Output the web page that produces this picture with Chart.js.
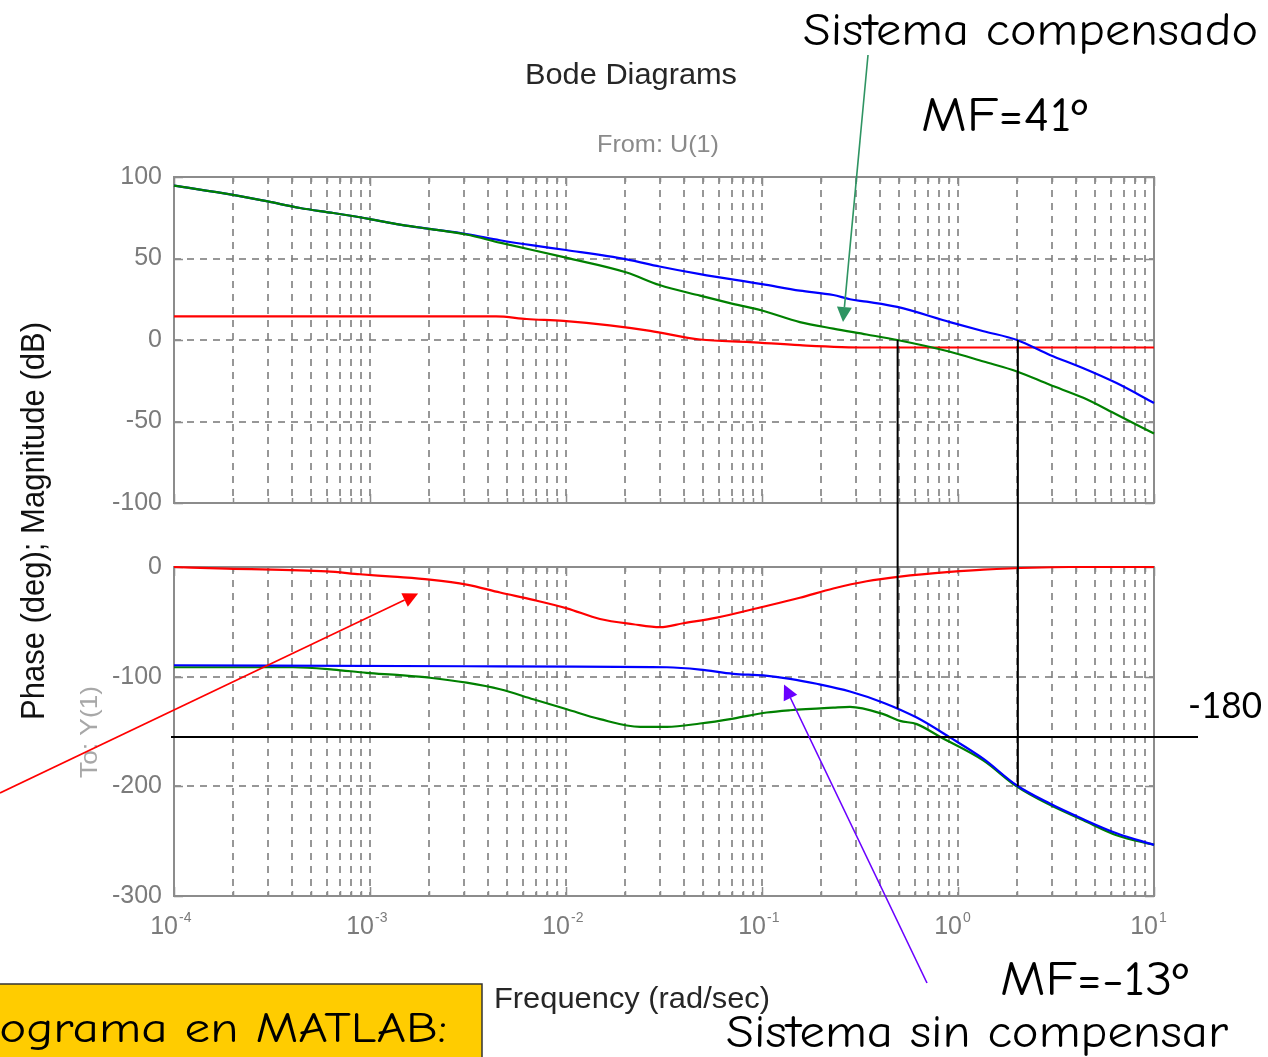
<!DOCTYPE html>
<html>
<head>
<meta charset="utf-8">
<title>Bode Diagrams</title>
<script src="https://cdn.jsdelivr.net/npm/chart.js@4.4.0/dist/chart.umd.min.js"></script>
<style>
  html, body { margin: 0; padding: 0; background: #ffffff; }
  #page { position: relative; width: 1268px; height: 1057px; overflow: hidden; background: #ffffff; }
  #page canvas { position: absolute; left: 0; }
  #mag { top: 150px; }
  #phase { top: 540px; }
  #notes { top: 0; pointer-events: none; }
</style>
</head>
<body>
<div id="page">
  <canvas id="mag" width="1268" height="380"></canvas>
  <canvas id="phase" width="1268" height="420"></canvas>
  <canvas id="notes" width="1268" height="1057"></canvas>
</div>
<script>
// ---- axis ticks -------------------------------------------------------------
const decadeExponents = ['-4', '-3', '-2', '-1', '0', '1'];
const magTickValues = [100, 50, 0, -50, -100];
const phaseTickValues = [0, -100, -200, -300];

// ---- magnitude (dB) ---------------------------------------------------------
// compensated system (green)
const compMagFreq = [1e-4, 2.0e-4, 3.0e-4, 4.4e-4, 6.5e-4, 1e-3, 1.42e-3, 2.0e-3, 3.1e-3, 4.6e-3, 1.0e-2, 2.04e-2, 3.0e-2, 4.83e-2, 7.1e-2, 0.10, 0.156, 0.231, 0.342, 0.49, 0.91, 1.35, 2.0, 2.94, 4.36, 6.44, 10];
const compMag     = [94.7, 89, 85, 81, 77.9, 74.2, 70.8, 68.2, 64.7, 59.7, 50.5, 41.4, 33.7, 27.2, 22.2, 18.1, 11, 7, 3.4, 0, -7.2, -13.2, -19.3, -27.5, -35.5, -45.7, -57.4];
// uncompensated system (blue)
const plantMagFreq = [1e-4, 2.0e-4, 3.0e-4, 4.4e-4, 6.5e-4, 1e-3, 1.42e-3, 2.0e-3, 3.1e-3, 4.6e-3, 6.8e-3, 1.0e-2, 2.04e-2, 3.0e-2, 4.83e-2, 0.10, 0.156, 0.231, 0.281, 0.342, 0.49, 0.91, 1.35, 2.0, 2.94, 4.36, 6.44, 10];
const plantMag     = [94.7, 89, 85, 81, 77.9, 74.2, 70.8, 68.2, 65, 61.2, 58, 55.2, 49.5, 45.1, 40.4, 34.3, 30.3, 27.6, 25, 23.5, 20.3, 11, 5.4, 0, -9.2, -17.3, -26.4, -38.6];
// compensator (red)
const compensatorMagFreq = [1e-4, 4.4e-3, 6.3e-3, 9.7e-3, 1.67e-2, 2.69e-2, 4.83e-2, 8.7e-2, 0.156, 0.342, 10];
const compensatorMag     = [14.5, 14.5, 12.9, 11.7, 9, 5.6, 0.3, -1.3, -3.2, -4.6, -4.6];

// ---- phase (deg) ------------------------------------------------------------
const compPhaseFreq = [1e-4, 4.05e-4, 6.5e-4, 9.6e-4, 1.42e-3, 2.02e-3, 3.11e-3, 4.61e-3, 6.81e-3, 1.01e-2, 1.49e-2, 2.39e-2, 3.27e-2, 4.83e-2, 7.14e-2, 0.1057, 0.139, 0.231, 0.281, 0.416, 0.506, 0.616, 0.809, 1.35, 1.99, 2.94, 4.36, 6.44, 10];
const compPhase     = [-91.4, -91.4, -93.5, -96.5, -98.6, -101, -105.5, -111.5, -120.6, -129.7, -138.7, -145.7, -145.7, -142.7, -138.2, -132.7, -130.6, -128.2, -127.5, -134.2, -140.3, -143.3, -154.8, -176.5, -200, -216.9, -231, -244.6, -253.4];
const plantPhaseFreq = [1e-4, 3.11e-3, 3.27e-2, 4.83e-2, 7.14e-2, 0.1016, 0.139, 0.190, 0.281, 0.416, 0.616, 0.910, 1.35, 1.99, 2.94, 4.36, 6.44, 10];
const plantPhase     = [-89.6, -90.5, -91.4, -93.5, -97.4, -98.9, -102, -106.5, -113.5, -123.7, -137.3, -155.4, -175, -199, -215.7, -230, -242.8, -253.4];
const compensatorPhaseFreq = [1e-4, 1.86e-4, 6.0e-4, 8.9e-4, 1.31e-3, 2.02e-3, 3.11e-3, 4.61e-3, 6.81e-3, 1.01e-2, 1.49e-2, 2.2e-2, 3.02e-2, 3.97e-2, 5.88e-2, 0.1016, 0.156, 0.231, 0.342, 0.506, 0.91, 1.35, 3.72, 10];
const compensatorPhase     = [0, -1.5, -4, -6.6, -8.8, -11.5, -16, -23.3, -30, -37.7, -47.4, -52.2, -54.9, -51.3, -46.2, -36.2, -28, -19.6, -13, -8.8, -4.5, -2.4, 0, 0];

// ---- annotation anchors -----------------------------------------------------
const crossoverFreq = [0.492, 2.02];      // 0 dB crossings: compensated, uncompensated
const crossoverPhase = [-129, -200];      // where the drop lines stop on the phase plot
const markerPhase = -155;                 // horizontal marker line, annotated "-180"
const compArrowTarget = { freq: 0.259, mag: 11 };
const compensatorArrowTarget = { freq: 1.76e-3, phase: -24.2 };
const plantArrowTarget = { freq: 0.1295, phase: -107.1 };

// ---- drawing ----------------------------------------------------------------
const MATLAB_FONT = "'Liberation Sans', Arial, Helvetica, sans-serif";
const HAND_FONT = "'Comic Sans MS', 'Comic Neue', 'Noto Sans', sans-serif";
const GRID = 'rgba(125,125,125,0.8)';
const FRAME = '#8c8c8c';

const gridFreqs = [];
decadeExponents.forEach((e, i) => {
  const base = Math.pow(10, Number(e));
  const top = i === decadeExponents.length - 1 ? 1 : 9;
  for (let m = 1; m <= top; m++) gridFreqs.push(m * base);
});

const pts = (f, v) => f.map((x, i) => ({ x, y: v[i] }));

function series(freq, vals, color) {
  return {
    data: pts(freq, vals),
    borderColor: color,
    borderWidth: 2.2,
    pointRadius: 0,
    fill: false,
    clip: 3,
    cubicInterpolationMode: 'monotone'
  };
}

// frame around the plot area with inward tick marks, as MATLAB draws it
const framePlugin = {
  id: 'frame',
  beforeDatasetsDraw(chart) {
    const { ctx, chartArea: a, scales } = chart;
    ctx.save();
    ctx.strokeStyle = FRAME;
    ctx.lineWidth = 1.5;
    scales.x.ticks.forEach(t => {
      const x = Math.round(scales.x.getPixelForValue(t.value)) + 0.5;
      const len = Math.abs(Math.log10(t.value) - Math.round(Math.log10(t.value))) < 1e-6 ? 9 : 5;
      ctx.beginPath();
      ctx.moveTo(x, a.bottom); ctx.lineTo(x, a.bottom - len);
      ctx.moveTo(x, a.top); ctx.lineTo(x, a.top + len);
      ctx.stroke();
    });
    scales.y.ticks.forEach(t => {
      const y = Math.round(scales.y.getPixelForValue(t.value)) + 0.5;
      ctx.beginPath();
      ctx.moveTo(a.left, y); ctx.lineTo(a.left + 9, y);
      ctx.moveTo(a.right, y); ctx.lineTo(a.right - 9, y);
      ctx.stroke();
    });
    ctx.lineWidth = 2;
    ctx.strokeRect(a.left, a.top, a.right - a.left, a.bottom - a.top);
    ctx.restore();
  }
};

// decade labels 10^n under the phase plot
const decadeLabelPlugin = {
  id: 'decadeLabels',
  afterDraw(chart) {
    const { ctx, scales, chartArea: a } = chart;
    ctx.save();
    ctx.fillStyle = '#7b7b7b';
    ctx.textBaseline = 'alphabetic';
    const base = a.bottom + 38;
    decadeExponents.forEach(e => {
      const x = scales.x.getPixelForValue(Math.pow(10, Number(e)));
      ctx.font = '25px ' + MATLAB_FONT;
      ctx.textAlign = 'right';
      ctx.fillText('10', x + 4, base);
      ctx.font = '14px ' + MATLAB_FONT;
      ctx.textAlign = 'left';
      ctx.fillText(e, x + 5, base - 12);
    });
    ctx.restore();
  }
};

function bodeOptions(yMin, yMax, yTicks, padTop, xAxisHeight) {
  return {
    responsive: false,
    animation: false,
    events: [],
    layout: { padding: { top: padTop, right: 114, left: 0, bottom: 0 } },
    plugins: { legend: { display: false }, tooltip: { enabled: false }, title: { display: false } },
    scales: {
      x: {
        type: 'logarithmic', min: 1e-4, max: 10,
        afterBuildTicks: s => { s.ticks = gridFreqs.map(v => ({ value: v })); },
        afterFit: s => { s.height = xAxisHeight; },
        ticks: { display: false },
        grid: { color: GRID, lineWidth: 2, drawTicks: false },
        border: { display: false, dash: [7, 6] }
      },
      y: {
        type: 'linear', min: yMin, max: yMax,
        afterBuildTicks: s => { s.ticks = yTicks.map(v => ({ value: v })); },
        afterFit: s => { s.width = 174; },
        ticks: {
          color: '#7b7b7b', padding: 12,
          font: { family: MATLAB_FONT, size: 25 },
          callback: v => String(v)
        },
        grid: { color: GRID, lineWidth: 2, drawTicks: false },
        border: { display: false, dash: [7, 6] }
      }
    }
  };
}

const magChart = new Chart(document.getElementById('mag'), {
  type: 'line',
  data: {
    datasets: [
      series(compMagFreq, compMag, '#008000'),
      series(plantMagFreq, plantMag, '#0000ff'),
      series(compensatorMagFreq, compensatorMag, '#ff0000')
    ]
  },
  options: bodeOptions(-100, 100, magTickValues, 26, 25),
  plugins: [framePlugin]
});

const phaseChart = new Chart(document.getElementById('phase'), {
  type: 'line',
  data: {
    datasets: [
      series(plantPhaseFreq, plantPhase, '#0000ff'),
      series(compPhaseFreq, compPhase, '#008000'),
      series(compensatorPhaseFreq, compensatorPhase, '#ff0000')
    ]
  },
  options: bodeOptions(-300, 0, phaseTickValues, 25, 64),
  plugins: [framePlugin, decadeLabelPlugin]
});

// ---- notes layer: labels, marker lines and arrows ---------------------------
function fitText(ctx, str, o) {
  ctx.save();
  ctx.font = `${o.size}px ${o.family}`;
  ctx.fillStyle = o.color;
  ctx.textAlign = 'left';
  ctx.textBaseline = 'alphabetic';
  const w = ctx.measureText(str).width;
  ctx.translate(o.x, o.y);
  if (o.rotate) ctx.rotate(o.rotate);
  ctx.scale(o.width / w, 1);
  ctx.fillText(str, 0, 0);
  ctx.restore();
}

function arrow(ctx, x0, y0, x1, y1, color, width) {
  const ang = Math.atan2(y1 - y0, x1 - x0);
  const len = 15, half = 7.5;
  const bx = x1 - len * Math.cos(ang), by = y1 - len * Math.sin(ang);
  ctx.save();
  ctx.strokeStyle = color; ctx.fillStyle = color; ctx.lineWidth = width;
  ctx.beginPath(); ctx.moveTo(x0, y0); ctx.lineTo(bx, by); ctx.stroke();
  ctx.beginPath();
  ctx.moveTo(x1, y1);
  ctx.lineTo(bx + half * Math.sin(ang), by - half * Math.cos(ang));
  ctx.lineTo(bx - half * Math.sin(ang), by + half * Math.cos(ang));
  ctx.closePath(); ctx.fill();
  ctx.restore();
}

function drawNotes() {
  const cv = document.getElementById('notes');
  const ctx = cv.getContext('2d');
  ctx.clearRect(0, 0, cv.width, cv.height);
  const magTop = document.getElementById('mag').offsetTop;
  const phTop = document.getElementById('phase').offsetTop;
  const fx = f => magChart.scales.x.getPixelForValue(f);
  const my = v => magTop + magChart.scales.y.getPixelForValue(v);
  const py = v => phTop + phaseChart.scales.y.getPixelForValue(v);
  const pa = phaseChart.chartArea;

  // MATLAB figure texts
  fitText(ctx, 'Bode Diagrams', { x: 525, y: 84, width: 212, size: 30, family: MATLAB_FONT, color: '#262626' });
  fitText(ctx, 'From: U(1)', { x: 597, y: 152, width: 122, size: 24, family: MATLAB_FONT, color: '#8a8a8a' });
  fitText(ctx, 'Frequency (rad/sec)', { x: 494, y: 1008, width: 276, size: 30, family: MATLAB_FONT, color: '#262626' });
  fitText(ctx, 'Phase (deg); Magnitude (dB)', { x: 44, y: 720, width: 398, size: 33, family: MATLAB_FONT, color: '#111111', rotate: -Math.PI / 2 });
  fitText(ctx, 'To: Y(1)', { x: 97, y: 778, width: 92, size: 24, family: MATLAB_FONT, color: '#a8a8a8', rotate: -Math.PI / 2 });

  // horizontal marker line on the phase plot
  ctx.save();
  ctx.strokeStyle = '#000000';
  ctx.lineWidth = 2;
  const yMark = py(markerPhase);
  ctx.beginPath(); ctx.moveTo(pa.left - 3, yMark); ctx.lineTo(pa.right + 44, yMark); ctx.stroke();
  // drop lines from the 0 dB crossings to the phase curves
  crossoverFreq.forEach((f, i) => {
    const x = fx(f);
    ctx.beginPath(); ctx.moveTo(x, my(0)); ctx.lineTo(x, py(crossoverPhase[i])); ctx.stroke();
  });
  ctx.restore();

  // arrows
  arrow(ctx, 868, 55, fx(compArrowTarget.freq), my(compArrowTarget.mag), '#2e9462', 1.6);
  arrow(ctx, 0, 793, fx(compensatorArrowTarget.freq), py(compensatorArrowTarget.phase), '#ff0000', 1.6);
  arrow(ctx, 927, 983, fx(plantArrowTarget.freq), py(plantArrowTarget.phase), '#6a00ff', 1.6);

  // hand-written notes
  fitText(ctx, 'Sistema compensado', { x: 803, y: 45, width: 455, size: 46, family: HAND_FONT, color: '#000000' });
  fitText(ctx, 'MF=41º', { x: 921, y: 131, width: 166, size: 48, family: HAND_FONT, color: '#000000' });
  fitText(ctx, '-180', { x: 1188, y: 718, width: 74, size: 36, family: "Lato, 'Open Sans', sans-serif", color: '#000000' });
  fitText(ctx, 'MF=-13º', { x: 1000, y: 995, width: 188, size: 48, family: HAND_FONT, color: '#000000' });
  fitText(ctx, 'Sistema sin compensar', { x: 726, y: 1047, width: 502, size: 46, family: HAND_FONT, color: '#000000' });

  // yellow note box, running off the left edge
  ctx.save();
  ctx.fillStyle = '#ffcc00';
  ctx.strokeStyle = '#333333';
  ctx.lineWidth = 1.5;
  ctx.fillRect(-2, 984, 484, 80);
  ctx.strokeRect(-2, 984, 484, 80);
  ctx.restore();
  const noteSize = 42;
  ctx.save();
  ctx.font = noteSize + 'px ' + HAND_FONT;
  const full = 'Programa en MATLAB:';
  const lead = ctx.measureText('Pr').width;
  const rest = ctx.measureText(full).width - lead;
  const k = 447 / rest;
  ctx.restore();
  fitText(ctx, full, { x: -lead * k, y: 1042, width: (lead + rest) * k, size: noteSize, family: HAND_FONT, color: '#000000' });
}

drawNotes();
if (document.fonts && document.fonts.ready) {
  document.fonts.ready.then(() => { magChart.update(); phaseChart.update(); drawNotes(); });
}
</script>
</body>
</html>
